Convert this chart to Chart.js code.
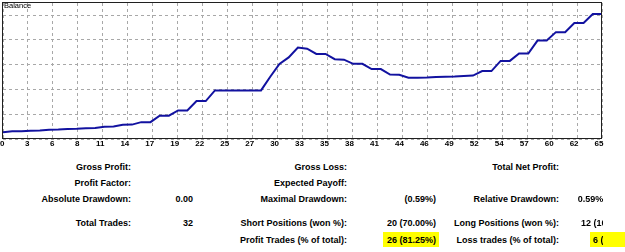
<!DOCTYPE html>
<html>
<head>
<meta charset="utf-8">
<script src="https://cdn.jsdelivr.net/npm/chart.js@4"></script>
<style>
  body { margin: 0; background: #fff; }
  #wrap { position: relative; width: 625px; height: 252px; overflow: hidden; }
  #chart { position: absolute; left: 0; top: 0; }
  .t { position: absolute; font: bold 9px "Liberation Sans", Arial, sans-serif; line-height: 10px;
       white-space: nowrap; color: #000; }
  .hl { position: absolute; background: #ffff00; }
  #clip { position: absolute; left: 560px; top: 0; width: 43px; height: 252px; overflow: hidden; }
</style>
</head>
<body>
<div id="wrap">
  <canvas id="chart" width="625" height="152"></canvas>

  <div class="hl" style="left:383px; top:232px; width:56px; height:15px;"></div>
  <div class="hl" style="left:590px; top:232px; width:35px; height:15px;"></div>

  <!-- column 1 -->
  <div class="t" style="right:494px; top:161.7px;">Gross Profit:</div>
  <div class="t" style="right:494px; top:177.7px;">Profit Factor:</div>
  <div class="t" style="right:494px; top:193.7px;">Absolute Drawdown:</div>
  <div class="t" style="right:432px; top:193.7px;">0.00</div>
  <div class="t" style="right:494px; top:218.3px;">Total Trades:</div>
  <div class="t" style="right:432px; top:218.3px;">32</div>

  <!-- column 2 -->
  <div class="t" style="right:278px; top:161.7px;">Gross Loss:</div>
  <div class="t" style="right:278px; top:177.7px;">Expected Payoff:</div>
  <div class="t" style="right:278px; top:193.7px;">Maximal Drawdown:</div>
  <div class="t" style="right:189px; top:193.7px;">(0.59%)</div>
  <div class="t" style="right:278px; top:218.3px;">Short Positions (won %):</div>
  <div class="t" style="right:189px; top:218.3px;">20 (70.00%)</div>
  <div class="t" style="right:278px; top:234.5px;">Profit Trades (% of total):</div>
  <div class="t" style="right:189px; top:234.5px;">26 (81.25%)</div>

  <!-- column 3 -->
  <div class="t" style="right:66px; top:161.7px;">Total Net Profit:</div>
  <div class="t" style="right:66px; top:193.7px;">Relative Drawdown:</div>
  <div class="t" style="right:66px; top:218.3px;">Long Positions (won %):</div>
  <div class="t" style="right:66px; top:234.5px;">Loss trades (% of total):</div>
  <div id="clip">
    <div class="t" style="left:17.7px; top:193.7px;">0.59% (0.00)</div>
    <div class="t" style="left:21px; top:218.3px;">12 (100.00%)</div>
    <div class="t" style="left:33px; top:234.5px;">6 (18.75%)</div>
  </div>
</div>

<script>
// balance curve, in grid units (one dashed row = 1)
const balance = [
  0.27, 0.31, 0.31, 0.33, 0.34, 0.37, 0.38, 0.40, 0.41, 0.43,
  0.44, 0.49, 0.50, 0.57, 0.58, 0.68, 0.68, 0.94, 0.94, 1.15,
  1.15, 1.53, 1.53, 1.96, 1.96, 1.96, 1.96, 1.96, 1.96, 2.51,
  3.03, 3.29, 3.69, 3.64, 3.43, 3.43, 3.22, 3.20, 3.03, 3.03,
  2.82, 2.82, 2.60, 2.59, 2.47, 2.47, 2.48, 2.50, 2.51, 2.52,
  2.54, 2.56, 2.74, 2.74, 3.15, 3.15, 3.45, 3.45, 3.97, 3.97,
  4.31, 4.31, 4.68, 4.68, 5.04, 5.04
];
const xTickLabels = ['0','3','6','8','11','14','17','19','22','25','27','30','33',
                     '35','38','41','44','46','49','52','54','57','60','62','65'];
const yGridValues = [0, 1, 2, 3, 4, 5];
const xMax = 65;
const yMax = 5.485;

const tickFont = { family: 'Liberation Sans', size: 8, weight: 'bold' };
const gridColor = '#a8a8a8';

// frame round the plot + the "Balance" caption
const framePlugin = {
  id: 'frame',
  afterDraw(chart) {
    const { ctx, chartArea: a } = chart;
    ctx.save();
    ctx.strokeStyle = '#202020';
    ctx.lineWidth = 1;
    ctx.strokeRect(a.left - 0.5, a.top - 0.5, a.right - a.left, a.bottom - a.top);
    ctx.fillStyle = '#000';
    ctx.font = '7.5px "Liberation Sans"';
    ctx.textBaseline = 'top';
    ctx.fillText('Balance', a.left + 1, a.top - 0.4);
    ctx.restore();
  }
};

new Chart(document.getElementById('chart'), {
  type: 'line',
  data: {
    datasets: [{
      label: 'Balance',
      data: balance.map((v, i) => ({ x: i, y: v })),
      borderColor: '#1212a0',
      borderWidth: 2,
      pointRadius: 0,
      tension: 0,
      fill: false
    }]
  },
  options: {
    responsive: false,
    animation: false,
    devicePixelRatio: 1,
    layout: { padding: { left: 3, top: 3, right: 23, bottom: 0 } },
    plugins: { legend: { display: false }, tooltip: { enabled: false } },
    scales: {
      x: {
        type: 'linear',
        min: 0,
        max: xMax,
        afterBuildTicks: s => {
          s.ticks = xTickLabels.map((l, k) => ({ value: k * xMax / (xTickLabels.length - 1) }));
        },
        afterFit: s => { s.height = 13; s.paddingLeft = 0; s.paddingRight = 0; },
        ticks: {
          autoSkip: false,
          maxRotation: 0,
          align: 'end',
          labelOffset: 1.5,
          padding: 0,
          color: '#000',
          font: tickFont,
          callback: (v, i) => xTickLabels[i]
        },
        grid: { color: gridColor, lineWidth: 1, drawTicks: false },
        border: { display: false, dash: [3, 3] }
      },
      y: {
        min: 0,
        max: yMax,
        afterBuildTicks: s => { s.ticks = yGridValues.map(v => ({ value: v })); },
        afterFit: s => { s.width = 0; },
        ticks: { display: false },
        grid: { color: gridColor, drawTicks: false },
        border: { display: false, dash: [3, 3] }
      }
    }
  },
  plugins: [framePlugin]
});
</script>
</body>
</html>
